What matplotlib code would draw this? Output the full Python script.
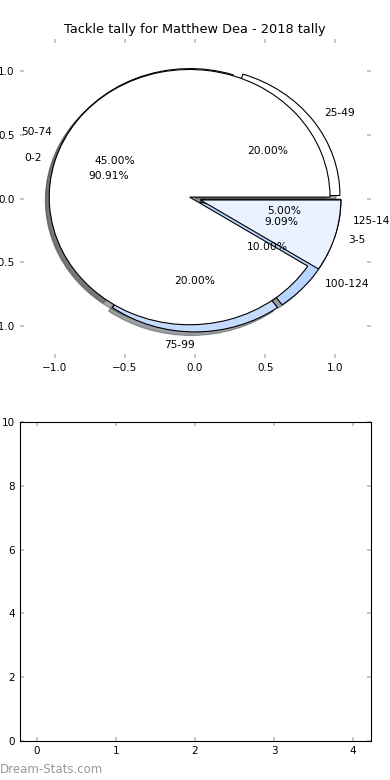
import matplotlib
matplotlib.use("Agg")
import matplotlib.pyplot as plt

# Data
title = "Tackle tally for Matthew Dea - 2018 tally"
tackle_labels = ["25-49", "50-74", "75-99", "100-124", "125-149"]
tackle_values = [20.0, 45.0, 20.0, 10.0, 5.0]
tackle_colors = ["#ffffff", "#ffffff", "#c6dcff", "#b8d5ff", "#eaf1ff"]
tackle_explode = [0.04, 0.04, 0.045, 0.04, 0.04]

games_labels = ["0-2", "3-5"]
games_values = [90.91, 9.09]
games_colors = ["#ffffff", "#eaf1ff"]
games_explode = [0.04, 0.04]

xticks_bottom = [0, 1, 2, 3, 4]
yticks_bottom = [0, 2, 4, 6, 8, 10]
pie_ticks = [-1.0, -0.5, 0.0, 0.5, 1.0]

plt.rcParams['font.family'] = ['DejaVu Sans']
plt.rcParams['font.size'] = 8
plt.rcParams['xtick.direction'] = 'in'
plt.rcParams['ytick.direction'] = 'in'
plt.rcParams['xtick.top'] = True
plt.rcParams['ytick.right'] = True
plt.rcParams['xtick.color'] = '#bbbbbb'
plt.rcParams['ytick.color'] = '#bbbbbb'
plt.rcParams['xtick.labelcolor'] = 'black'
plt.rcParams['ytick.labelcolor'] = 'black'
plt.rcParams['xtick.major.size'] = 3
plt.rcParams['ytick.major.size'] = 3
plt.rcParams['xtick.major.width'] = 1.2
plt.rcParams['ytick.major.width'] = 1.2
plt.rcParams['xtick.labelsize'] = 7.5
plt.rcParams['ytick.labelsize'] = 7.5

fig = plt.figure(figsize=(3.9, 7.8), dpi=100)
fig.subplots_adjust(left=0.05, right=0.95, top=0.95, bottom=0.05, hspace=0.2)
ax1 = fig.add_subplot(2, 1, 1)
ax2 = fig.add_subplot(2, 1, 2)

wp = dict(edgecolor='black', linewidth=0.8)
w1, t1, a1 = ax1.pie(tackle_values, explode=tackle_explode, labels=tackle_labels,
                     colors=tackle_colors, autopct='%1.2f%%', shadow=True,
                     startangle=0, wedgeprops=wp, frame=True,
                     textprops=dict(fontsize=7.7))
w2, t2, a2 = ax1.pie(games_values, explode=games_explode, labels=games_labels,
                     colors=games_colors, autopct='%1.2f%%', shadow=True,
                     startangle=0, wedgeprops=wp, frame=True,
                     textprops=dict(fontsize=7.7))
# label at exactly 270 degrees is right-aligned in the reference
t1[2].set_horizontalalignment('right')

ax1.set_aspect('auto')
ax1.set_xlim(-1.25, 1.25)
ax1.set_ylim(-1.25, 1.25)
ax1.set_xticks(pie_ticks)
ax1.set_yticks(pie_ticks)
for s in ax1.spines.values():
    s.set_visible(False)
ax1.set_title(title, fontsize=9.3, pad=4)

ax2.set_xlim(-0.22, 4.22)
ax2.set_ylim(0, 10)
ax2.set_xticks(xticks_bottom)
ax2.set_yticks(yticks_bottom)

fig.text(0.0, 0.005, "Dream-Stats.com", color='#999999', fontsize=8.5, ha='left', va='bottom')

fig.savefig("out.png", dpi=100)
